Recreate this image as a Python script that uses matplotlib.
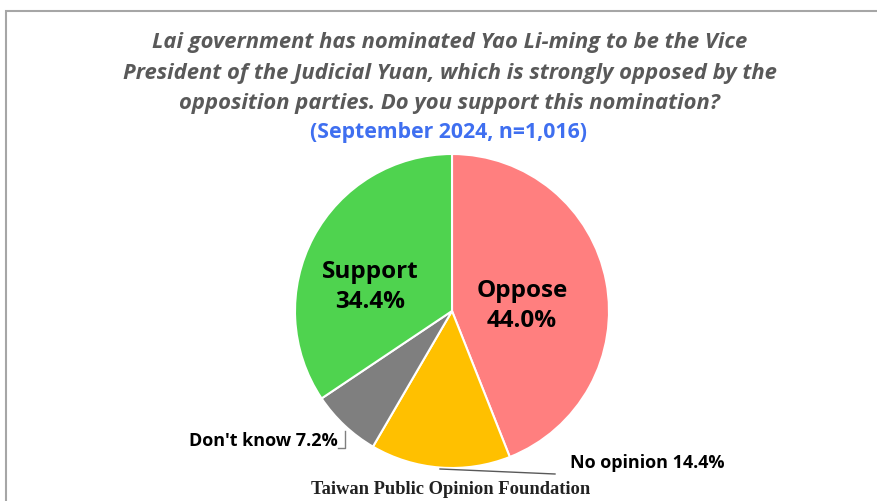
import matplotlib.pyplot as plt
from matplotlib.patches import Rectangle

# Survey answers, clockwise from 12 o'clock
answers = ["Oppose", "No opinion", "Don't know", "Support"]
shares = [44.0, 14.4, 7.2, 34.4]
colors = ["#FF7F7F", "#FFC000", "#7F7F7F", "#4FD34F"]

title = ("Lai government has nominated Yao Li-ming to be the Vice\n"
         "President of the Judicial Yuan, which is strongly opposed by the\n"
         "opposition parties. Do you support this nomination?")
subtitle = "(September 2024, n=1,016)"
source = "Taiwan Public Opinion Foundation"

W, H = 877, 501
fig = plt.figure(figsize=(W / 100, H / 100), dpi=100)
ax = fig.add_axes([0, 0, 1, 1])
ax.set_xlim(0, W)
ax.set_ylim(0, H)
ax.set_aspect("equal")
ax.axis("off")

# outer frame (runs off the right and bottom edges)
ax.add_patch(Rectangle((6, -20), 900, H - 11 + 20, fill=False,
                       edgecolor="#A6A6A6", lw=1.5))

cx, cy, r = 452, H - 311, 157
ax.pie(shares, colors=colors, startangle=90, counterclock=False,
       center=(cx, cy), radius=r,
       wedgeprops=dict(edgecolor="white", linewidth=1.5))
ax.set_xlim(0, W)
ax.set_ylim(0, H)

ax.text(W / 2 + 11, H - 73, title, ha="center", va="center",
        fontsize=15.8, fontstyle="italic", fontweight="bold",
        color="#595959", family="Open Sans", linespacing=1.6)
ax.text(449, H - 132, subtitle, ha="center", va="center",
        fontsize=15.3, fontweight="bold", color="#3F6FF0", family="Open Sans")

lbl = dict(ha="center", va="center", fontweight="bold", color="black",
           family="Open Sans", linespacing=1.35)
ax.text(522, H - 306, f"{answers[0]}\n{shares[0]:.1f}%", fontsize=17.5, **lbl)
ax.text(370, H - 287, f"{answers[3]}\n{shares[3]:.1f}%", fontsize=17.5, **lbl)

# outside labels with leader lines
ax.text(338, H - 441, f"{answers[2]} {shares[2]:.1f}%", ha="right", va="center",
        fontsize=13, fontweight="bold", family="Open Sans")
ax.plot([345, 345, 338], [H - 431, H - 448, H - 448], color="#7F7F7F", lw=1)
ax.text(570, H - 463, f"{answers[1]} {shares[1]:.1f}%", ha="left", va="center",
        fontsize=13, fontweight="bold", family="Open Sans")
ax.plot([440, 555], [H - 469, H - 474], color="#595959", lw=1)

ax.text(451, H - 489, source, ha="center", va="center", fontsize=13.3,
        fontweight="bold", family="Liberation Serif", color="#222222")

fig.savefig("out.png", dpi=100)
